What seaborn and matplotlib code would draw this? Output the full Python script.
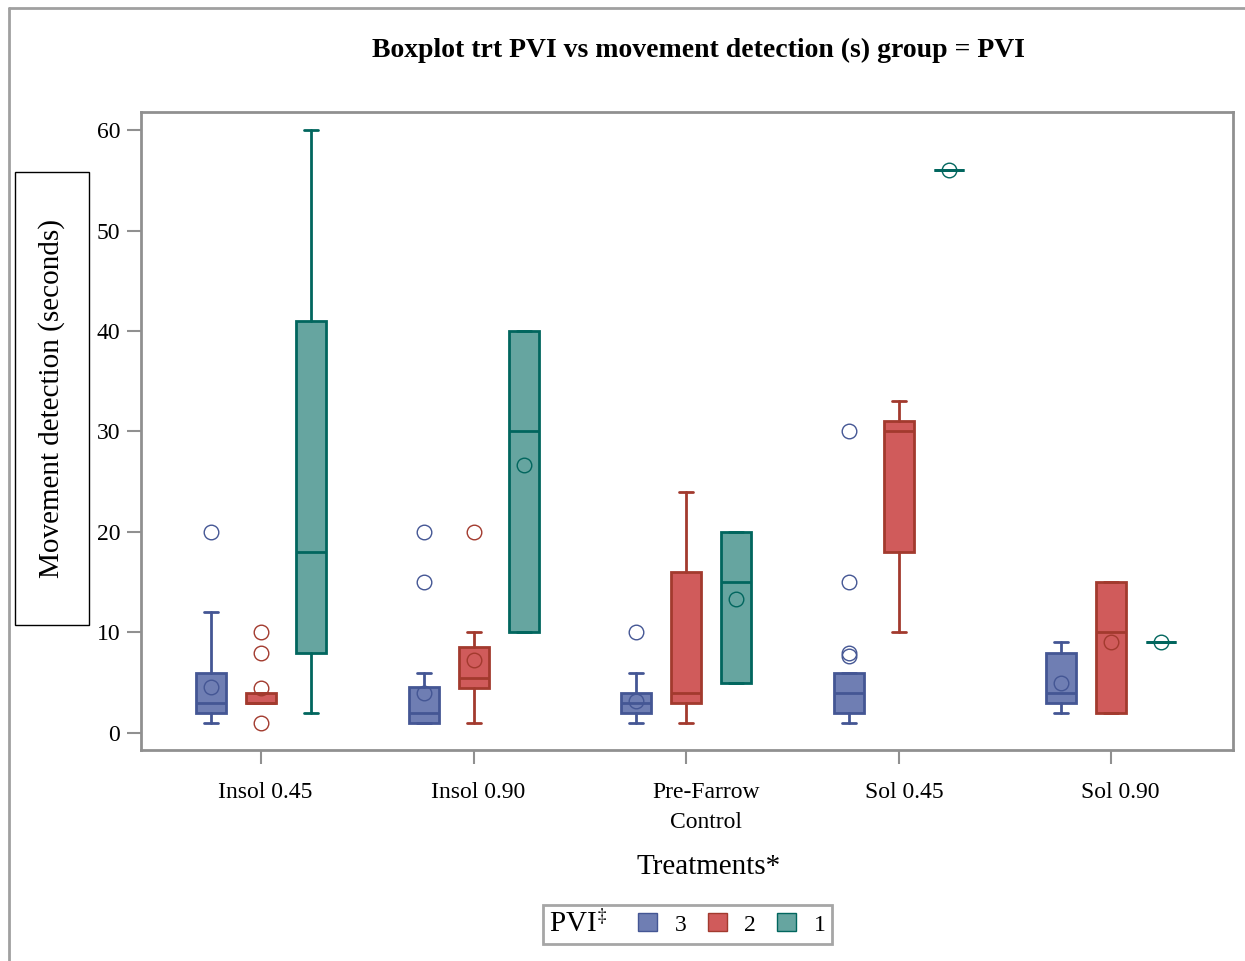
import numpy as np
import matplotlib
matplotlib.use("Agg")
import matplotlib.pyplot as plt
import matplotlib.transforms as mtransforms
from matplotlib.patches import Patch, Rectangle
from matplotlib.lines import Line2D
from matplotlib.offsetbox import HPacker
import seaborn as sns

# categories
treatments = ["Insol 0.45", "Insol 0.90", "Pre-Farrow\nControl", "Sol 0.45", "Sol 0.90"]
pvi_levels = ["3", "2", "1"]

# box statistics, one row per PVI level (3, 2, 1)
whislo = [[1, 1, 1, 1, 2],
          [3, 1, 1, 10, 2],
          [2, 10, 5, 56, 9]]
q1 = [[2, 1, 2, 2, 3],
      [3, 4.5, 3, 18, 2],
      [8, 10, 5, 56, 9]]
med = [[3, 2, 3, 4, 4],
       [3, 5.5, 4, 30, 10],
       [18, 30, 15, 56, 9]]
q3 = [[6, 4.6, 4, 6, 8],
      [4, 8.5, 16, 31, 15],
      [41, 40, 20, 56, 9]]
whishi = [[12, 6, 6, 6, 9],
          [4, 10, 24, 33, 15],
          [60, 40, 20, 56, 9]]
means = [[4.6, 4.0, 3.2, 7.7, 5.0],
         [4.5, 7.3, np.nan, np.nan, 9.0],
         [np.nan, 26.7, 13.3, 56, 9]]
fliers = [[[20], [15, 20], [10], [8, 15, 30], []],
          [[1, 8, 10], [20], [], [], []],
          [[], [], [], [], []]]

fill_colors = ["#6F7EB3", "#D05B5B", "#66A5A0"]
line_colors = ["#445694", "#A23A2E", "#01665E"]

sns.set_theme(style="white")
plt.rcParams['font.family'] = ['Liberation Serif', 'DejaVu Serif']
plt.rcParams['mathtext.fontset'] = 'stix'
plt.rcParams['text.color'] = 'black'
plt.rcParams['axes.labelcolor'] = 'black'
plt.rcParams['xtick.labelcolor'] = 'black'
plt.rcParams['ytick.labelcolor'] = 'black'

fig = plt.figure(figsize=(12.45, 9.61), dpi=100)
ax = fig.add_axes([0.1133, 0.2196, 0.8771, 0.6639])

x = np.arange(len(treatments))
offsets = [-0.235, 0, 0.235]
for i, lvl in enumerate(pvi_levels):
    stats = []
    for j in range(len(treatments)):
        stats.append(dict(whislo=whislo[i][j], q1=q1[i][j], med=med[i][j],
                          q3=q3[i][j], whishi=whishi[i][j], mean=means[i][j],
                          fliers=fliers[i][j]))
    lc = line_colors[i]
    ax.bxp(stats, positions=x + offsets[i], widths=0.141, capwidths=0.066,
           patch_artist=True, showmeans=True, manage_ticks=False,
           boxprops=dict(facecolor=fill_colors[i], edgecolor=lc, linewidth=2),
           whiskerprops=dict(color=lc, linewidth=2),
           capprops=dict(color=lc, linewidth=2),
           medianprops=dict(color=lc, linewidth=2),
           meanprops=dict(marker='o', markerfacecolor='none', markeredgecolor=lc,
                          markersize=10.5, markeredgewidth=1),
           flierprops=dict(marker='o', markerfacecolor='none', markeredgecolor=lc,
                           markersize=10.5, markeredgewidth=1))

ax.set_xlim(-0.565, 4.574)
ax.set_ylim(-1.7, 61.8)
ax.set_xticks(x)
ax.set_xticklabels(treatments, fontsize=17, linespacing=1.55)
ax.set_yticks([0, 10, 20, 30, 40, 50, 60])
ax.tick_params(axis='both', which='major', direction='out', length=10, width=1.5,
               color='#909090', labelsize=17, left=True, bottom=True)
ax.tick_params(axis='x', pad=13)
ax.tick_params(axis='y', pad=5)
for s in ax.spines.values():
    s.set_color('#909090')
    s.set_linewidth(2)
ax.grid(False)

# SAS centres the tick labels a little to the right of the ticks
label_shift_px = [4, 5, 20, 6, 9]
for lab, dx in zip(ax.get_xticklabels(), label_shift_px):
    lab.set_transform(lab.get_transform() + mtransforms.ScaledTranslation(dx / 100, 0, fig.dpi_scale_trans))

# titles
fig.text(698 / 1245, 1 - 50 / 961, "Boxplot trt PVI vs movement detection (s) group = PVI",
         ha='center', va='center', fontsize=20, fontweight='bold')
fig.text(709 / 1245, 1 - 867 / 961, "Treatments*", ha='center', va='center', fontsize=21)

# boxed y label
fig.add_artist(Rectangle((15 / 1245, 1 - 625 / 961), 74 / 1245, 453 / 961,
                         transform=fig.transFigure, fill=False, edgecolor='black', lw=1))
fig.text(52 / 1245, 1 - 398 / 961, "Movement detection (seconds)", rotation=90,
         ha='center', va='center', fontsize=21)

# outer border (top and left)
fig.add_artist(Line2D([9 / 1245, 1], [1 - 8 / 961, 1 - 8 / 961], transform=fig.transFigure,
                      color='#a0a0a0', lw=2))
fig.add_artist(Line2D([9 / 1245, 9 / 1245], [0, 1 - 8 / 961], transform=fig.transFigure,
                      color='#a0a0a0', lw=2))

# legend, title placed to the left of the entries like the SAS output
handles = [Patch(facecolor=fill_colors[i], edgecolor=line_colors[i], linewidth=1)
           for i in range(len(pvi_levels))]
leg = fig.legend(handles, pvi_levels, title=r"PVI$^{\ddag}$", title_fontsize=21,
                 loc='center', bbox_to_anchor=(687.5 / 1245, 1 - 924.5 / 961),
                 ncol=3, fontsize=17, frameon=True, fancybox=False, handlelength=0.8,
                 handleheight=0.8, handletextpad=0.75, columnspacing=0.9, borderpad=0.25,
                 borderaxespad=0)
old_box = leg._legend_box
new_box = HPacker(pad=old_box.pad, sep=22, align="center",
                  children=[leg._legend_title_box, leg._legend_handle_box])
new_box.set_figure(fig)
new_box.set_offset(leg._findoffset)
leg._legend_box = new_box
leg.get_frame().set_edgecolor('#909090')
leg.get_frame().set_linewidth(2)

fig.savefig("out.png", dpi=100)
